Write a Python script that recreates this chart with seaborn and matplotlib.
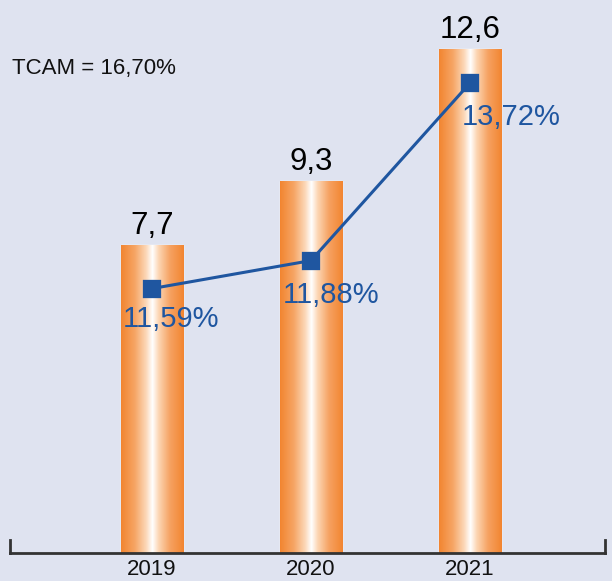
import numpy as np
import pandas as pd
import matplotlib
matplotlib.use("Agg")
import matplotlib.pyplot as plt
import seaborn as sns
from matplotlib.colors import LinearSegmentedColormap

# Dados do gráfico
anos = ["2019", "2020", "2021"]
valores = [7.7, 9.3, 12.6]
rotulos_valores = ["7,7", "9,3", "12,6"]
taxas = [11.59, 11.88, 13.72]
rotulos_taxas = ["11,59%", "11,88%", "13,72%"]
texto_tcam = "TCAM = 16,70%"

fundo = "#DFE3F0"
azul = "#1F56A0"

sns.set_theme(style="white")
plt.rcParams["font.family"] = ["Liberation Sans", "DejaVu Sans"]

df = pd.DataFrame({"ano": anos, "valor": valores, "taxa": taxas})

fig = plt.figure(figsize=(6.12, 5.81), dpi=100, facecolor=fundo)
ax = fig.add_axes([10 / 612, 28 / 581, 595 / 612, 553 / 581])
ax.set_facecolor(fundo)

# Barras
sns.barplot(data=df, x="ano", y="valor", color="#F28530", width=0.396,
            saturation=1, ax=ax, zorder=2)

# degradê laranja -> branco -> laranja em cada barra
cmap = LinearSegmentedColormap.from_list(
    "laranja",
    [(0.0, "#F28530"), (0.22, "#F6A565"), (0.40, "#FCD8B8"), (0.5, "#FFFFFF"),
     (0.60, "#FCD6B4"), (0.78, "#F6A262"), (1.0, "#F28530")])
grad = np.linspace(0, 1, 256).reshape(1, -1)
for p in ax.patches:
    x0, y0 = p.get_x(), p.get_y()
    w, h = p.get_width(), p.get_height()
    im = ax.imshow(grad, cmap=cmap, aspect="auto", extent=[x0, x0 + w, y0, y0 + h],
                   zorder=2.1)
    im.set_clip_path(p)

ax.bar_label(ax.containers[0], labels=rotulos_valores, padding=3, fontsize=22.5,
             color="black", zorder=5)

ax.set_xlim(-0.893, 2.849)
ax.set_ylim(0, 13.825)
ax.set_xlabel("")
ax.set_ylabel("")
ax.set_yticks([])
ax.tick_params(axis="x", length=0, pad=4)
for lab in ax.get_xticklabels():
    lab.set_fontsize(16)
    lab.set_color("#111111")

ax.spines["top"].set_visible(False)
for s in ["bottom", "left", "right"]:
    ax.spines[s].set_color("#333333")
    ax.spines[s].set_linewidth(2)
ax.spines["left"].set_bounds(0, 0.33)
ax.spines["right"].set_bounds(0, 0.33)

# Linha de taxas (eixo secundário)
ax2 = ax.twinx()
sns.pointplot(data=df, x="ano", y="taxa", color=azul, markers="s", linestyles="-",
              markersize=11, linewidth=2.2, ax=ax2)
ax2.set_xlim(-0.893, 2.849)
ax2.set_ylim(8.85, 14.58)
ax2.set_axis_off()

desloc = [(14, -12), (14.4, -15), (30, -14.5)]
for i, (t, r) in enumerate(zip(taxas, rotulos_taxas)):
    ax2.annotate(r, (i, t), xytext=desloc[i], textcoords="offset points",
                 ha="center", va="top", fontsize=21, color=azul)

fig.text(12 / 612, 1 - 58 / 581, texto_tcam, fontsize=16, va="top", ha="left",
         color="#111111")

fig.savefig("out.png", dpi=100, facecolor=fundo)
